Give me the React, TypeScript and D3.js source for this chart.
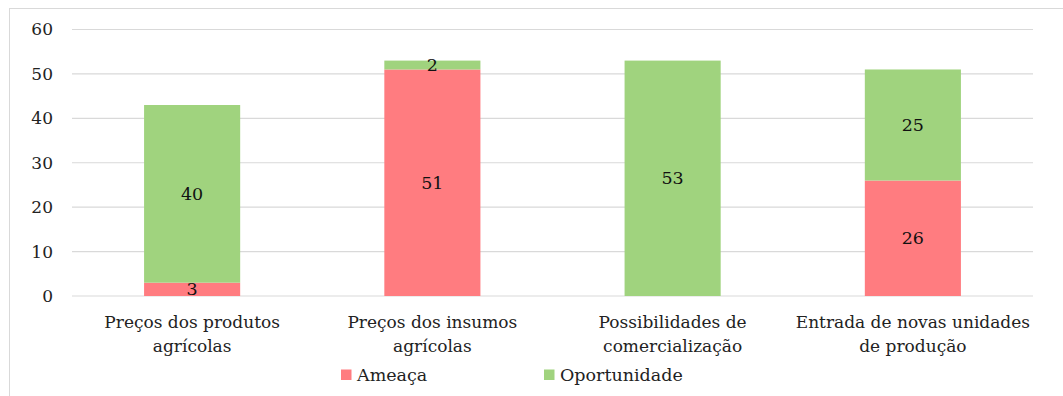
import React from "react";
import * as d3 from "d3";

const categories = [
  ["Preços dos produtos", "agrícolas"],
  ["Preços dos insumos", "agrícolas"],
  ["Possibilidades de", "comercialização"],
  ["Entrada de novas unidades", "de produção"],
];
const ameaca = [3, 51, 0, 26];
const oportunidade = [40, 2, 53, 25];
const yTicks = [0, 10, 20, 30, 40, 50, 60];
const seriesNames = ["Ameaça", "Oportunidade"];
const seriesColors = ["#FF7C80", "#A0D37E"];

const W = 1063;
const H = 396;
const plot = { left: 72, right: 1033, top: 29.5, bottom: 296 };
const font = "'DejaVu Serif', serif";

export default function App() {
  const x = d3
    .scaleBand<number>()
    .domain(categories.map((_, i) => i))
    .range([plot.left, plot.right])
    .paddingInner(0.6)
    .paddingOuter(0.3);
  const y = d3.scaleLinear().domain([0, 60]).range([plot.bottom, plot.top]);

  const rows = categories.map((_, i) => ({ i, Ameaça: ameaca[i], Oportunidade: oportunidade[i] }));
  const stacked = d3.stack<any>().keys(seriesNames)(rows);

  return (
    <svg
      width={W}
      height={H}
      style={{ position: "absolute", left: 0, top: 0, background: "#fff", fontFamily: font }}
    >
      <rect x={9.5} y={8.5} width={W} height={H} fill="#fff" stroke="#d9d9d9" strokeWidth={1} />
      {yTicks.map((t) => (
        <g key={t}>
          <line x1={plot.left} x2={plot.right} y1={y(t)} y2={y(t)} stroke="#d9d9d9" strokeWidth={1.2} />
          <text x={53} y={y(t)} dy="0.35em" textAnchor="end" fontSize={17} fill="#222">
            {t}
          </text>
        </g>
      ))}
      {stacked.map((s, si) =>
        s.map((d, i) => {
          const v = d[1] - d[0];
          if (v <= 0) return null;
          return (
            <rect
              key={`${si}-${i}`}
              x={x(i)}
              width={x.bandwidth()}
              y={y(d[1])}
              height={y(d[0]) - y(d[1])}
              fill={seriesColors[si]}
            />
          );
        })
      )}
      {stacked.map((s, si) =>
        s.map((d, i) => {
          const v = d[1] - d[0];
          if (v <= 0) return null;
          return (
            <text
              key={`l${si}-${i}`}
              x={(x(i) as number) + x.bandwidth() / 2}
              y={y((d[0] + d[1]) / 2)}
              dy="0.35em"
              textAnchor="middle"
              fontSize={17.5}
              fill="#111"
            >
              {v}
            </text>
          );
        })
      )}
      {categories.map((lines, i) => (
        <text
          key={`c${i}`}
          x={(x(i) as number) + x.bandwidth() / 2}
          y={328}
          textAnchor="middle"
          fontSize={17}
          fill="#222"
        >
          {lines.map((ln, k) => (
            <tspan key={k} x={(x(i) as number) + x.bandwidth() / 2} dy={k === 0 ? 0 : 24}>
              {ln}
            </tspan>
          ))}
        </text>
      ))}
      {seriesNames.map((n, si) => {
        const lx = 341 + si * 203;
        return (
          <g key={n}>
            <rect x={lx} y={369.5} width={10.5} height={10.5} fill={seriesColors[si]} />
            <text x={lx + 16} y={381} fontSize={17.5} fill="#222">
              {n}
            </text>
          </g>
        );
      })}
    </svg>
  );
}
